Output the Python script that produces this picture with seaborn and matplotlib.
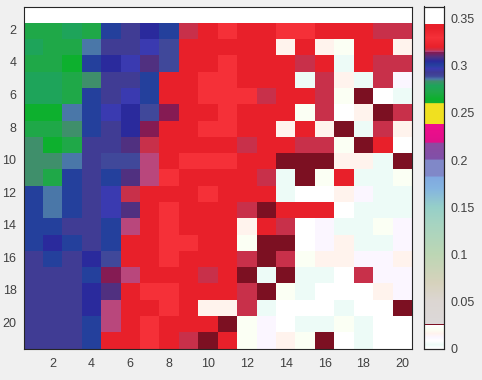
import numpy as np
import matplotlib.pyplot as plt
import seaborn as sns
from matplotlib.colors import LinearSegmentedColormap

# value levels read against the colorbar
GP, GR, GT, SA, ST = 0.265, 0.272, 0.279, 0.2838, 0.286
IS, IN, IB, BL, NV = 0.289, 0.293, 0.297, 0.301, 0.305
PU, MA, PK, CR, RE, BR = 0.3095, 0.3145, 0.3155, 0.3168, 0.320, 0.330
MI, WH, LA, CM, IV, DK = 0.004, 0.008, 0.012, 0.016, 0.020, 0.0253
TOP = 0.36

row_01 = [TOP] * 20
row_02 = [GR, GR, GT, GR, BL, IN, NV, BL, CR, RE, BR, RE, RE, BR, BR, RE, RE, RE, CR, CR]
row_03 = [GT, GR, GR, ST, IN, IN, IB, IS, RE, RE, RE, RE, RE, CM, RE, CM, IV, RE, RE, CM]
row_04 = [GR, GR, GP, BL, NV, IB, PU, IS, RE, RE, BR, RE, RE, RE, CR, RE, MI, RE, CR, CR]
row_05 = [GT, GT, GR, SA, IN, IN, BL, RE, RE, BR, BR, RE, RE, RE, MI, CR, CM, MI, CR, LA]
row_06 = [GT, GT, GR, BL, IN, IB, BL, RE, RE, BR, BR, BR, CR, RE, RE, CR, IV, DK, WH, MI]
row_07 = [GP, GP, ST, BL, IB, NV, IS, MA, RE, RE, BR, RE, RE, RE, IV, CR, WH, CM, DK, CR]
row_08 = [GR, GR, SA, BL, IN, NV, MA, RE, RE, BR, BR, RE, RE, CM, RE, CM, DK, MI, CR, CM]
row_09 = [SA, GP, GR, IN, IN, PU, CR, RE, RE, RE, RE, CR, RE, RE, CR, CR, IV, DK, RE, WH]
row_10 = [SA, SA, ST, IN, IS, IS, PK, RE, BR, BR, BR, RE, RE, DK, DK, DK, CM, CM, MI, DK]
row_11 = [SA, GR, BL, IN, BL, PU, PK, BR, RE, RE, RE, RE, CR, MI, DK, IV, RE, MI, MI, IV]
row_12 = [BL, ST, BL, IN, IB, CR, RE, RE, RE, BR, RE, RE, RE, MI, WH, WH, CM, LA, MI, MI]
row_13 = [BL, ST, BL, IN, IB, PU, RE, BR, RE, RE, RE, CR, DK, RE, RE, RE, WH, MI, MI, MI]
row_14 = [BL, BL, IN, IN, BL, PK, RE, BR, RE, RE, RE, CM, RE, CR, WH, LA, MI, MI, IV, LA]
row_15 = [BL, NV, BL, IN, BL, RE, RE, BR, BR, RE, RE, IV, DK, DK, WH, LA, CM, MI, MI, LA]
row_16 = [IN, BL, IN, NV, IS, RE, RE, BR, RE, RE, RE, CR, DK, CR, IV, CM, CM, LA, LA, CM]
row_17 = [IN, IN, IN, BL, MA, PK, RE, RE, RE, CR, RE, DK, MI, DK, MI, MI, WH, CR, LA, LA]
row_18 = [IN, IN, IN, NV, PU, RE, BR, BR, RE, RE, RE, CR, DK, IV, MI, WH, WH, WH, CM, LA]
row_19 = [IN, IN, IN, NV, PK, RE, RE, BR, RE, CM, CM, CR, MI, WH, WH, WH, MI, WH, WH, DK]
row_20 = [IN, IN, IN, BL, PK, RE, BR, RE, RE, RE, DK, IV, LA, WH, MI, MI, IV, MI, WH, WH]
row_21 = [IN, IN, IN, BL, RE, RE, BR, RE, CR, DK, RE, IV, LA, CM, IV, DK, WH, MI, WH, WH]

xticks = list(range(2, 21, 2))
yticks = list(range(2, 21, 2))
cbar_ticks = [0, 0.05, 0.1, 0.15, 0.2, 0.25, 0.3, 0.35]
cbar_labels = ['0', '0.05', '0.1', '0.15', '0.2', '0.25', '0.3', '0.35']

vmax = 0.363
stops = [
    (0.0, '#ffffff'), (MI, '#edfbf7'), (WH, '#ffffff'), (LA, '#fbf6ff'), (CM, '#fff3ed'),
    (IV, '#fbfff4'), (0.0245, '#ffffff'), (0.0246, '#7c1022'), (0.0262, '#7c1022'),
    (0.0263, '#dcd8d8'), (0.05, '#dcd6d2'), (0.07, '#d6d2bc'), (0.10, '#bcd6b4'),
    (0.13, '#a8d4c0'), (0.15, '#96cfc8'), (0.17, '#84b4e0'), (0.182, '#80a8e0'),
    (0.183, '#8088c8'), (0.20, '#8088c8'), (0.201, '#8050a8'), (0.218, '#8c4aa0'),
    (0.219, '#e0108a'), (0.238, '#f00c8c'), (0.2385, '#f0e020'), (0.26, '#f0e020'),
    (0.2605, '#10b030'), (GP, '#0db02e'), (GR, '#1fa848'), (GT, '#1ea45a'),
    (SA, '#3f8f6a'), (ST, '#4a78a8'), (IS, '#40489a'), (IN, '#403c94'),
    (IB, '#3a3ab0'), (BL, '#24409c'), (NV, '#2a2a9c'), (PU, '#503080'),
    (MA, '#841a52'), (PK, '#b8487f'), (CR, '#c8304a'), (RE, '#e8202a'),
    (BR, '#f53038'), (0.34, '#e8202a'), (0.3445, '#e8202a'), (0.345, '#ffffff'),
    (vmax, '#ffffff'),
]
cmap = LinearSegmentedColormap.from_list('bands', [(v / vmax, c) for v, c in stops], N=4096)

grid = np.array([row_01, row_02, row_03, row_04, row_05, row_06, row_07, row_08, row_09, row_10, row_11,
                 row_12, row_13, row_14, row_15, row_16, row_17, row_18, row_19, row_20, row_21])

sns.set_theme(style='ticks')
plt.rcParams['font.family'] = ['Liberation Sans', 'DejaVu Sans']
W, H = 482, 380
fig = plt.figure(figsize=(W / 100, H / 100), dpi=100, facecolor='#f0f0f0')
ax = fig.add_axes([23.5 / W, (H - 348.5) / H, 388.5 / W, 342 / H])
cax = fig.add_axes([423.5 / W, (H - 348.5) / H, 20 / W, 342 / H])

sns.heatmap(grid, ax=ax, cmap=cmap, vmin=0, vmax=vmax, cbar_ax=cax, cbar_kws={'ticks': cbar_ticks})

ax.set_xticks(np.array(xticks) - 0.5, labels=xticks, rotation=0)
ax.set_yticks(np.array(yticks) - 0.5, labels=yticks, rotation=0)
ax.tick_params(direction='in', length=3, width=0.7, top=True, right=True, labelsize=9,
               colors='#262626', labelcolor='#404040', pad=5)
ax.tick_params(axis='x', pad=7)
for s in ax.spines.values():
    s.set_visible(True)
    s.set_linewidth(0.8)
    s.set_color('#262626')

cax.set_yticks(cbar_ticks, labels=cbar_labels)
cax.tick_params(direction='in', length=3, width=0.7, labelsize=9, colors='#262626',
                labelcolor='#404040', pad=5)
for s in cax.spines.values():
    s.set_visible(True)
    s.set_linewidth(0.8)
    s.set_color('#262626')

fig.savefig('out.png', dpi=100, facecolor=fig.get_facecolor())
